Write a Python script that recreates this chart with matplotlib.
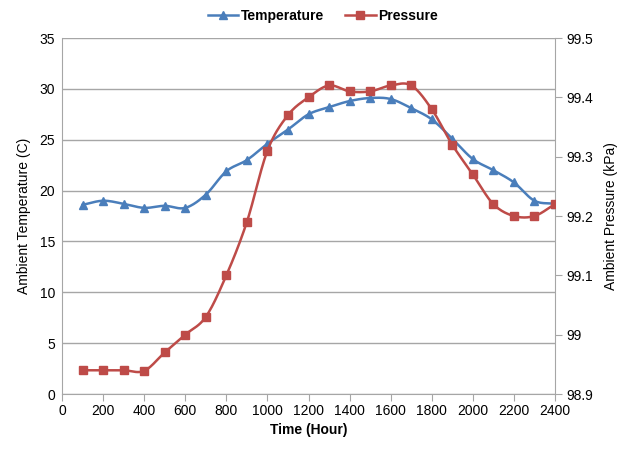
import numpy as np
import matplotlib
matplotlib.use("Agg")
import matplotlib.pyplot as plt
from matplotlib.lines import Line2D

plt.rcParams['font.family'] = ['Liberation Sans', 'DejaVu Sans']

hours = [100, 200, 300, 400, 500, 600, 700, 800, 900, 1000, 1100, 1200,
         1300, 1400, 1500, 1600, 1700, 1800, 1900, 2000, 2100, 2200, 2300, 2400]
temperature = [18.6, 19.0, 18.7, 18.3, 18.5, 18.3, 19.6, 21.9, 23.0, 24.6, 26.0, 27.5,
               28.2, 28.8, 29.1, 29.0, 28.1, 27.0, 25.1, 23.1, 22.0, 20.8, 19.0, 18.7]
pressure = [98.94, 98.94, 98.94, 98.939, 98.97, 99.0, 99.03, 99.10, 99.19, 99.31, 99.37, 99.40,
            99.42, 99.41, 99.41, 99.42, 99.42, 99.38, 99.32, 99.27, 99.22, 99.20, 99.20, 99.22]

blue = '#4a7ebb'
red = '#be4b48'


def smooth(x, y, n=20):
    # Catmull-Rom rendering of the connecting line (Excel-style smoothed line)
    x = np.asarray(x, float); y = np.asarray(y, float)
    px = np.concatenate([[2 * x[0] - x[1]], x, [2 * x[-1] - x[-2]]])
    py = np.concatenate([[2 * y[0] - y[1]], y, [2 * y[-1] - y[-2]]])
    xs, ys = [], []
    t = np.linspace(0, 1, n, endpoint=False)
    for i in range(1, len(px) - 2):
        for P, out in ((px, xs), (py, ys)):
            p0, p1, p2, p3 = P[i - 1], P[i], P[i + 1], P[i + 2]
            out.extend(0.5 * ((2 * p1) + (-p0 + p2) * t +
                              (2 * p0 - 5 * p1 + 4 * p2 - p3) * t ** 2 +
                              (-p0 + 3 * p1 - 3 * p2 + p3) * t ** 3))
    xs.append(x[-1]); ys.append(y[-1])
    return np.array(xs), np.array(ys)


fig = plt.figure(figsize=(6.21, 4.53), dpi=100)
ax = fig.add_axes([62 / 621, 1 - 394 / 453, (555 - 62) / 621, (394 - 38) / 453])
ax2 = ax.twinx()

sx, sy = smooth(hours, temperature)
ax.plot(sx, sy, color=blue, lw=1.8, zorder=3)
ax.plot(hours, temperature, ls='none', marker='^', ms=6, color=blue, zorder=4)

sx, sy = smooth(hours, pressure)
ax2.plot(sx, sy, color=red, lw=1.8, zorder=3)
ax2.plot(hours, pressure, ls='none', marker='s', ms=5.5, color=red, zorder=4)

ax.set_xlim(0, 2400)
ax.set_ylim(0, 35)
ax2.set_ylim(98.9, 99.5)
ax.set_xticks(np.arange(0, 2401, 200))
ax.set_yticks(np.arange(0, 36, 5))
ax2.set_yticks(np.round(np.arange(98.9, 99.51, 0.1), 1))
ax2.set_yticklabels(['98.9', '99', '99.1', '99.2', '99.3', '99.4', '99.5'])

ax.grid(axis='y', color='#a6a6a6', lw=1)
ax.set_axisbelow(True)
for a in (ax, ax2):
    a.spines['top'].set_visible(False)
    for s in ('left', 'right', 'bottom'):
        a.spines[s].set_color('#a6a6a6')
ax.spines['right'].set_visible(False)
ax2.spines['left'].set_visible(False)
ax2.spines['bottom'].set_visible(False)

ax.tick_params(axis='x', direction='out', length=5, color='#a6a6a6', labelsize=10, pad=2)
ax.tick_params(axis='y', length=0, labelsize=10, pad=5)
ax2.tick_params(axis='y', direction='out', length=5, color='#a6a6a6', labelsize=10, pad=3)

ax.set_xlabel('Time (Hour)', fontsize=10, fontweight='bold', labelpad=4)
ax.set_ylabel('Ambient Temperature (C)', fontsize=10, labelpad=6)
ax2.set_ylabel('Ambient Pressure (kPa)', fontsize=10, labelpad=8)

handles = [Line2D([], [], color=blue, marker='^', ms=6, lw=1.8),
           Line2D([], [], color=red, marker='s', ms=5.5, lw=1.8)]
fig.legend(handles, ['Temperature', 'Pressure'], loc='center', bbox_to_anchor=(0.52, 0.965),
           ncol=2, frameon=False, fontsize=10, handlelength=2.2, handletextpad=0.2,
           columnspacing=1.5, prop={'weight': 'bold', 'size': 10})

fig.savefig('out.png', dpi=100)
